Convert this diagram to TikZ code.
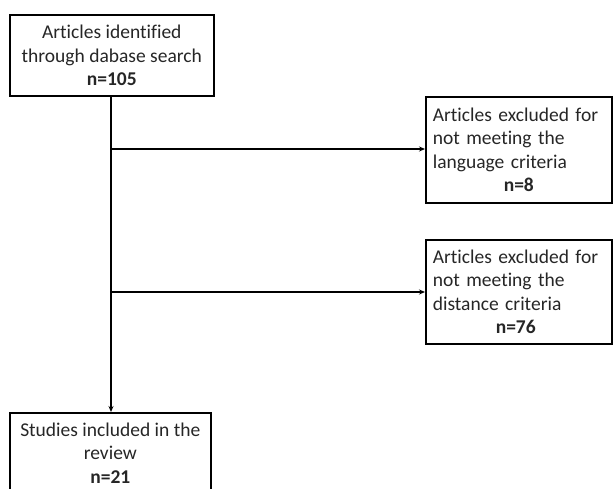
\documentclass[tikz,border=0pt]{standalone}
\usepackage{fontspec}
\setmainfont{Carlito}[Ligatures=NoCommon]
\usetikzlibrary{arrows.meta}
\begin{document}
\begin{tikzpicture}[x=1pt,y=-1pt,
  box/.style={draw=black,line width=1.6pt,anchor=north west,inner sep=0pt,font=\fontsize{19.5}{23.5}\selectfont,text=black!85},
  conn/.style={line width=1.4pt,-{Stealth[length=6pt,width=5pt]}}]
\useasboundingbox (0,0) rectangle (613,489);
\clip (0,0) rectangle (613,489);
\node[box,minimum width=204pt,minimum height=81pt,align=center] (src) at (9,14)
  {Articles identified\\through dabase search\\\textbf{n=105}};
\node[box,minimum width=186pt,minimum height=106pt,align=left,text width=180pt] (lang) at (425,96)
  {\hspace*{4pt}Articles excluded for\\\hspace*{4pt}not meeting the\\\hspace*{4pt}language criteria\\\hspace*{75pt}\textbf{n=8}};
\node[box,minimum width=186pt,minimum height=104pt,align=left,text width=180pt] (dist) at (425,239)
  {\hspace*{4pt}Articles excluded for\\\hspace*{4pt}not meeting the\\\hspace*{4pt}distance criteria\\\hspace*{67pt}\textbf{n=76}};
\node[box,minimum width=201pt,minimum height=80pt,align=center] (incl) at (9,412)
  {Studies included in the\\review\\\textbf{n=21}};
\coordinate (b1) at (111,149);
\coordinate (b2) at (111,292);
\draw[conn] (src.south -| b1) -- (incl.north -| b1);
\draw[conn] (b1) -- (lang.west |- b1);
\draw[conn] (b2) -- (dist.west |- b2);
\end{tikzpicture}
\end{document}
